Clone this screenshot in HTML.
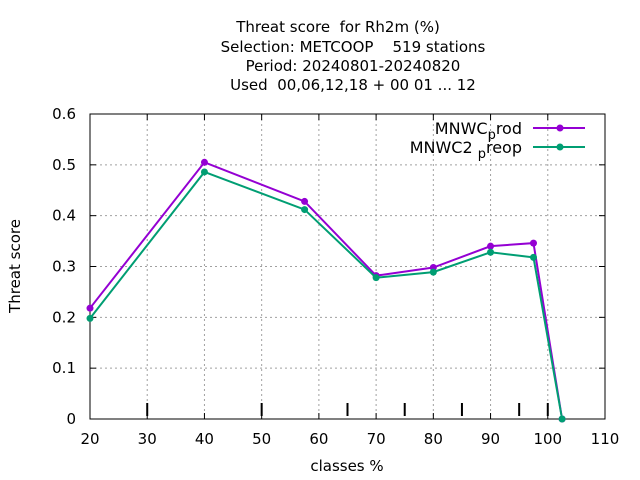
<!DOCTYPE html>
<html><head><meta charset="utf-8"><style>body{margin:0;background:#fff}svg{display:block;font-family:"DejaVu Sans","Liberation Sans",sans-serif}text{white-space:pre}</style></head>
<body>
<svg id="chart" width="640" height="480" xml:space="preserve">
<g id="titles" font-size="15" text-anchor="middle" fill="#000">
<text x="338" y="32">Threat score  for Rh2m (%)</text>
<text x="353" y="52">Selection: METCOOP    519 stations</text>
<text x="353" y="71">Period: 20240801-20240820</text>
<text x="353" y="90">Used  00,06,12,18 + 00 01 ... 12</text>
</g>
<g id="grid"></g><g id="axes"></g><g id="series"></g>
<text x="347" y="471" font-size="15" text-anchor="middle">classes %</text>
<text x="20" y="266" font-size="15" text-anchor="middle" transform="rotate(-90 20 266)">Threat score</text>
<g font-size="16" text-anchor="end">
<text x="522" y="134">MNWC<tspan font-size="13" dy="5">p</tspan><tspan dy="-5">rod</tspan></text>
<line x1="533" y1="128" x2="585" y2="128" stroke="#9400d3" stroke-width="2"/>
<circle cx="560" cy="128" r="3.5" fill="#9400d3"/>
<text x="522" y="153">MNWC2 <tspan font-size="13" dy="5">p</tspan><tspan dy="-5">reop</tspan></text>
<line x1="533" y1="147" x2="585" y2="147" stroke="#009e73" stroke-width="2"/>
<circle cx="560" cy="147" r="3.5" fill="#009e73"/>
</g>
</svg>
<script>
const xTicks=[20,30,40,50,60,70,80,90,100,110];
const yTicks=[0,0.1,0.2,0.3,0.4,0.5,0.6];
const yTickLabels=["0","0.1","0.2","0.3","0.4","0.5","0.6"];
const classMarks=[30,50,65,75,85,95,100];
const classes=[20,40,57.5,70,80,90,97.5,102.5];
const prodValues=[0.218,0.505,0.428,0.282,0.298,0.340,0.346,0];
const preopValues=[0.198,0.486,0.412,0.278,0.289,0.328,0.318,0];
const X0=90,X1=605,Y0=419,Y1=114;
const xs=v=>X0+(v-20)/90*(X1-X0);
const ys=v=>Y0-v/0.6*(Y0-Y1);
const NS="http://www.w3.org/2000/svg";
function mk(p,t,a){const e=document.createElementNS(NS,t);for(const k in a)e.setAttribute(k,a[k]);p.appendChild(e);return e;}
const grid=document.getElementById('grid'),axes=document.getElementById('axes'),ser=document.getElementById('series');
xTicks.forEach(v=>{
 if(v>20&&v<110){const g=mk(grid,'line',{x1:xs(v),x2:xs(v),y1:Y1,y2:Y0,stroke:'#a0a0a0','stroke-dasharray':'2,3'});
 
 }
 mk(axes,'line',{x1:xs(v),x2:xs(v),y1:Y0,y2:Y0-6,stroke:'#000'});
 mk(axes,'line',{x1:xs(v),x2:xs(v),y1:Y1,y2:Y1+6,stroke:'#000'});
 const t=mk(axes,'text',{x:xs(v),y:444,'font-size':15,'text-anchor':'middle'});t.textContent=v;
 
 
});
yTicks.forEach((v,i)=>{
 if(v>0&&v<0.6){const g=mk(grid,'line',{x1:X0,x2:X1,y1:ys(v),y2:ys(v),stroke:'#a0a0a0','stroke-dasharray':'2,3'});
 
 }
 mk(axes,'line',{x1:X0,x2:X0+6,y1:ys(v),y2:ys(v),stroke:'#000'});
 mk(axes,'line',{x1:X1,x2:X1-6,y1:ys(v),y2:ys(v),stroke:'#000'});
 const t=mk(axes,'text',{x:76,y:ys(v)+5,'font-size':15,'text-anchor':'end'});t.textContent=yTickLabels[i];
 
 
});
classMarks.forEach(v=>{const m=mk(axes,'line',{x1:xs(v),x2:xs(v),y1:Y0-16,y2:Y0-3,stroke:'#000','stroke-width':2});
 
 });
const box=mk(axes,'rect',{x:X0,y:Y1,width:X1-X0,height:Y0-Y1,fill:'none',stroke:'#000'});


function series(vals,col,name){
 const pl=mk(ser,'polyline',{points:classes.map((c,i)=>xs(c)+','+ys(vals[i])).join(' '),fill:'none',stroke:col,'stroke-width':2});
 
 
 classes.forEach((c,i)=>{const p=mk(ser,'circle',{cx:xs(c),cy:ys(vals[i]),r:3.5,fill:col});
 
 });
}
series(prodValues,'#9400d3','mnwc-prod');
series(preopValues,'#009e73','mnwc2-preop');
</script>
</body></html>
